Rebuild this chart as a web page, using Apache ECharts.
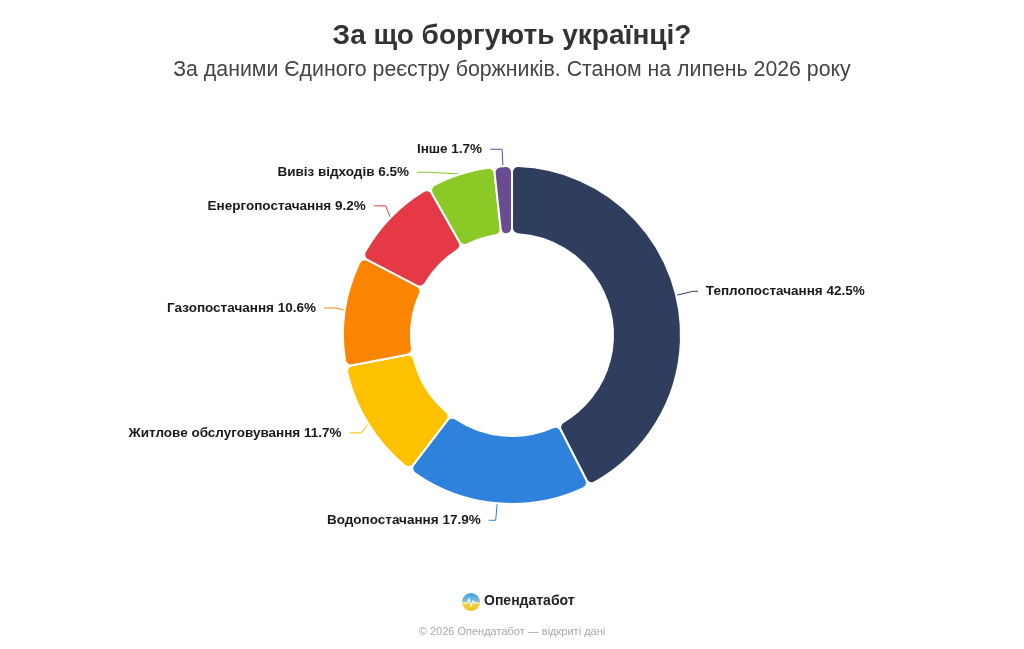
<!DOCTYPE html>
<html>
<head>
<meta charset="utf-8">
<script src="https://cdn.jsdelivr.net/npm/echarts@6/dist/echarts.min.js"></script>
<style>
  html, body { margin: 0; padding: 0; background: #fff; }
  #chart { width: 1024px; height: 649px; }
</style>
</head>
<body>
<div id="chart"></div>
<script>
// --- Data ---
const categories = [
  'Теплопостачання',
  'Водопостачання',
  'Житлове обслуговування',
  'Газопостачання',
  'Енергопостачання',
  'Вивіз відходів',
  'Інше'
];
const shares = [42.5, 17.9, 11.7, 10.6, 9.2, 6.5, 1.7];
const colors = ['#2f3e5e', '#2e82db', '#fdc100', '#fb8500', '#e63946', '#8ac926', '#6a4c93'];
// horizontal leg of each label line, tuned per slice to match the picture
const legLengths = [5, 7, 12, 12, 12, 12, 12];

const titleText = 'За що боргують українці?';
const subtitleText = 'За даними Єдиного реєстру боржників. Станом на липень 2026 року';
const brandText = 'Опендатабот';
const footerText = '© 2026 Опендатабот — відкриті дані';

const chart = echarts.init(document.getElementById('chart'), null, { renderer: 'canvas' });

const pieData = categories.map((name, i) => ({
  name,
  value: shares[i],
  itemStyle: { color: colors[i] },
  labelLine: { length2: legLengths[i] }
}));

const option = {
  backgroundColor: '#fff',
  animation: false,
  textStyle: { fontFamily: '"Liberation Sans", Arial, sans-serif' },
  title: [
    {
      text: titleText,
      left: 'center',
      top: 17,
      textStyle: { fontSize: 28, fontWeight: 'bold', color: '#333' }
    },
    {
      text: subtitleText,
      left: 'center',
      top: 55,
      textStyle: { fontSize: 21.3, fontWeight: 'normal', color: '#444' }
    }
  ],
  series: [{
    type: 'pie',
    center: [512, 335],
    radius: [101, 169],
    startAngle: 90,
    clockwise: true,
    avoidLabelOverlap: true,
    itemStyle: { borderColor: '#fff', borderWidth: 2, borderRadius: 6 },
    label: {
      show: true,
      formatter: p => p.name + ' ' + p.value + '%',
      fontSize: 13.5,
      lineHeight: 21,
      fontWeight: 'bold',
      color: '#1a1a1a',
      distanceToLabelLine: 8
    },
    labelLine: { show: true, length: 17, length2: 12, lineStyle: { width: 1 } },
    data: pieData
  }],
  graphic: [
    {
      type: 'circle',
      shape: { cx: 471, cy: 602, r: 9 },
      style: {
        fill: new echarts.graphic.LinearGradient(0, 0, 0, 1, [
          { offset: 0, color: '#3a9be6' },
          { offset: 0.5, color: '#8cc2d8' },
          { offset: 0.55, color: '#f4d04a' },
          { offset: 1, color: '#f2c21b' }
        ])
      }
    },
    {
      type: 'polyline',
      shape: { points: [[463, 603], [467, 603], [469, 599], [471, 606], [473, 601], [475, 603], [479, 603]] },
      style: { stroke: '#ffffff', lineWidth: 1.2, fill: null }
    },
    {
      type: 'text',
      left: 484,
      top: 594,
      style: { text: brandText, font: 'bold 14px "Liberation Sans", Arial, sans-serif', fill: '#222' }
    },
    {
      type: 'text',
      left: 'center',
      top: 626,
      style: { text: footerText, font: '11px "Liberation Sans", Arial, sans-serif', fill: '#a8a8a8' }
    }
  ]
};

chart.setOption(option);
</script>
</body>
</html>
